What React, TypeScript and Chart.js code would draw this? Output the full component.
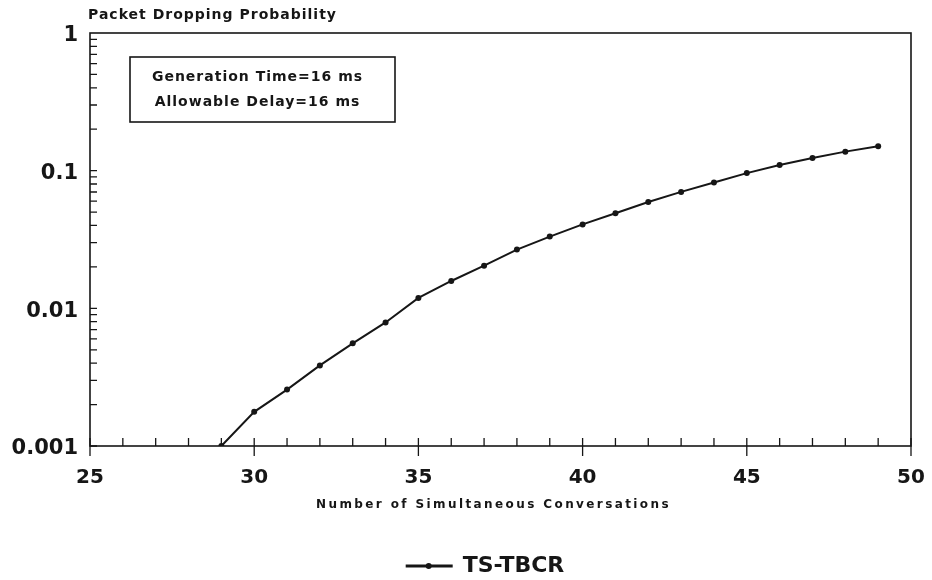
import { useEffect, useRef } from 'react';
import { Chart, registerables } from 'chart.js';

Chart.register(...registerables);

// ---- data ----
const conversations = [29, 30, 31, 32, 33, 34, 35, 36, 37, 38, 39, 40, 41, 42, 43, 44, 45, 46, 47, 48, 49];
const dropProbability = [
  0.001, 0.00177, 0.00257, 0.00385, 0.00557, 0.0079, 0.0119, 0.0158, 0.0204, 0.0267, 0.0332,
  0.0407, 0.049, 0.0592, 0.0701, 0.082, 0.096, 0.11, 0.1237, 0.1375, 0.1507,
];
const xTickLabels = ['25', '30', '35', '40', '45', '50'];
const yTickLabels = ['0.001', '0.01', '0.1', '1'];
const seriesLabel = 'TS-TBCR';
const chartTitle = 'Packet Dropping Probability';
const xAxisTitle = 'Number of Simultaneous Conversations';
const noteLines = ['Generation Time=16 ms', 'Allowable Delay=16 ms'];

const INK = '#161616';
const FONT = '"DejaVu Sans", sans-serif';

const decorPlugin = {
  id: 'decor',
  afterLayout(chart: any) {
    const lg = chart.legend;
    const a = chart.chartArea;
    if (!lg || !a) return;
    const dx = ((a.left + a.right) / 2 - 15) - (lg.left + lg.right) / 2;
    lg.left += dx;
    lg.right += dx;
    lg.top += 7;
    lg.bottom += 7;
  },
  afterDraw(chart: any) {
    const { ctx, chartArea: a, scales } = chart;
    const x = scales.x;
    const y = scales.y;
    ctx.save();
    ctx.strokeStyle = INK;
    ctx.fillStyle = INK;

    // frame
    ctx.lineWidth = 1.6;
    ctx.strokeRect(a.left, a.top, a.right - a.left, a.bottom - a.top);

    // inside tick marks
    ctx.lineWidth = 1.3;
    ctx.beginPath();
    for (let e = -3; e < 0; e++) {
      for (let m = 1; m <= 9; m++) {
        const py = y.getPixelForValue(m * Math.pow(10, e));
        ctx.moveTo(a.left, py);
        ctx.lineTo(a.left + 7, py);
      }
    }
    for (let v = x.min; v <= x.max; v++) {
      const px = x.getPixelForValue(v);
      const major = v % 5 === 0;
      ctx.moveTo(px, a.bottom - 8);
      ctx.lineTo(px, a.bottom + (major ? 10 : 0));
    }
    ctx.stroke();

    // chart title (top-left, above frame)
    ctx.textBaseline = 'middle';
    ctx.textAlign = 'left';
    ctx.font = `bold 14px ${FONT}`;
    (ctx as any).letterSpacing = '1px';
    ctx.fillText(chartTitle, a.left - 2, a.top - 18);

    // x-axis title
    ctx.textAlign = 'center';
    ctx.font = `bold 12px ${FONT}`;
    (ctx as any).letterSpacing = '2.4px';
    ctx.fillText(xAxisTitle, (a.left + a.right) / 2 - 7, a.bottom + 59);

    // note box
    const bx = a.left + 40;
    const by = a.top + 24;
    const bw = 265;
    const bh = 65;
    ctx.lineWidth = 1.6;
    ctx.strokeRect(bx, by, bw, bh);
    ctx.font = `bold 14px ${FONT}`;
    (ctx as any).letterSpacing = '1px';
    ctx.fillText(noteLines[0], bx + bw / 2 - 5, by + 20);
    ctx.fillText(noteLines[1], bx + bw / 2 - 5, by + 45);

    // legend marker dot
    const hb = chart.legend && chart.legend.legendHitBoxes && chart.legend.legendHitBoxes[0];
    if (hb) {
      ctx.beginPath();
      ctx.arc(hb.left + 22, hb.top + hb.height / 2, 3, 0, Math.PI * 2);
      ctx.fill();
    }
    ctx.restore();
  },
};

export default function App() {
  const canvasRef = useRef<HTMLCanvasElement | null>(null);

  useEffect(() => {
    if (!canvasRef.current) return;
    const chart = new Chart(canvasRef.current, {
      type: 'line',
      data: {
        datasets: [
          {
            label: seriesLabel,
            data: conversations.map((c, i) => ({ x: c, y: dropProbability[i] })),
            borderColor: INK,
            backgroundColor: INK,
            borderWidth: 2,
            pointRadius: 3,
            pointBackgroundColor: INK,
            pointBorderWidth: 0,
            tension: 0,
          },
        ],
      },
      options: {
        animation: false,
        responsive: false,
        devicePixelRatio: 1,
        layout: { padding: { left: 0, right: 21, top: 33, bottom: 0 } },
        plugins: {
          tooltip: { enabled: false },
          title: { display: false },
          legend: {
            display: true,
            position: 'bottom',
            labels: {
              boxWidth: 45,
              boxHeight: 1,
              padding: 4,
              color: INK,
              font: { family: FONT, size: 22, weight: 'bold' },
            },
          },
        },
        scales: {
          x: {
            type: 'linear',
            min: 25,
            max: 50,
            grid: { display: false, drawTicks: false },
            border: { display: false },
            ticks: {
              stepSize: 5,
              autoSkip: false,
              maxRotation: 0,
              padding: 20,
              color: INK,
              font: { family: FONT, size: 20, weight: 'bold' },
              callback: (v: any) => {
                const idx = Math.round((Number(v) - 25) / 5);
                return xTickLabels[idx] ?? '';
              },
            },
            afterFit: (s: any) => {
              s.height = 98;
              s.paddingLeft = 0;
              s.paddingRight = 0;
            },
          },
          y: {
            type: 'logarithmic',
            min: 0.001,
            max: 1,
            grid: { display: false, drawTicks: false },
            border: { display: false },
            ticks: {
              autoSkip: false,
              padding: 12,
              labelOffset: 3,
              color: INK,
              font: { family: FONT, size: 21, weight: 'bold' },
              callback: (v: any) => {
                const l = Math.log10(Number(v));
                const e = Math.round(l);
                return Math.abs(l - e) < 1e-6 ? yTickLabels[e + 3] ?? '' : '';
              },
            },
            afterFit: (s: any) => {
              s.width = 90;
            },
          },
        },
      },
      plugins: [decorPlugin],
    } as any);
    return () => chart.destroy();
  }, []);

  return (
    <div style={{ position: 'fixed', left: 0, top: 0, width: 932, height: 580, background: '#fff' }}>
      <canvas ref={canvasRef} width={932} height={580} style={{ display: 'block' }} />
    </div>
  );
}
